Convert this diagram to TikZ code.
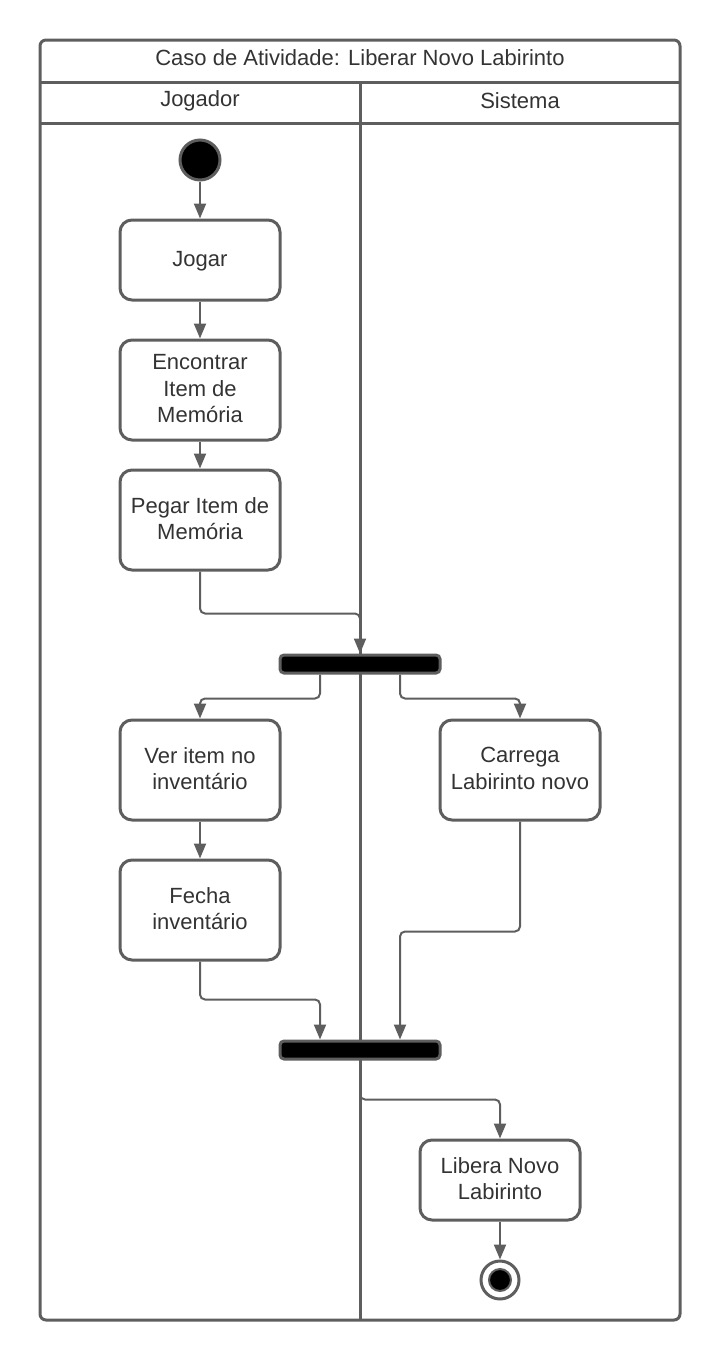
\documentclass[tikz,border=0pt]{standalone}
\usepackage{fontspec}
\setmainfont{Liberation Sans}
\usetikzlibrary{positioning, arrows.meta}
\definecolor{linegray}{HTML}{5E5E5E}
\definecolor{textgray}{HTML}{333333}
\tikzset{
    every node/.style={font=\fontsize{22}{26.5}\selectfont, text=textgray}, % lane and action texts
    action/.style={draw=linegray, line width=3pt, rounded corners=12pt, minimum width=160pt, minimum height=100pt, align=center,
        text depth=3pt}, % activity boxes
    bar/.style={draw=linegray, fill=black, line width=3pt, rounded corners=4pt, minimum width=160pt, minimum height=18pt}, % fork and join bars
    startnode/.style={circle, draw=linegray, fill=black, line width=3pt, minimum size=40pt},
    endnode/.style={circle, draw=linegray, line width=3pt, minimum size=38pt,
        path picture={\filldraw[draw=linegray, fill=black, line width=2pt] (path picture bounding box.center) circle (11pt);}},
    frame/.style={draw=linegray, line width=3pt},
    flow/.style={draw=linegray, line width=2pt, rounded corners=5pt, -{Triangle[length=15pt, width=12pt]}}, % connectors
}
\begin{document}
\begin{tikzpicture}[x=1pt, y=-1pt]
\useasboundingbox (0,0) rectangle (720,1360);
% swimlane frame
\draw[frame, rounded corners=6pt] (40,40) rectangle (680,1320);
\draw[frame] (40,82) -- (680,82);
\draw[frame] (40,123) -- (680,123);
\draw[frame] (360,82) -- (360,1320);
\node (title) at (360,58) {Caso de Atividade: Liberar Novo Labirinto};
\node (laneA) at (200,101) {Jogador};
\node (laneB) at (520,101) {Sistema};

% Jogador
\node[startnode] (start) at (200,160) {};
\node[action, minimum height=80pt, below=37pt of start] (jogar) {Jogar};
\node[action, below=37pt of jogar] (encontrar) {Encontrar\\Item de\\Memória};
\node[action, below=27pt of encontrar] (pegar) {Pegar Item de\\Memória};
\node[bar] (fork) at (360,664) {};
\node[action] (ver) at (200,770) {Ver item no\\inventário};
\node[action, below=37pt of ver] (fecha) {Fecha\\inventário};
% Sistema
\node[action, right=157pt of ver] (carrega) {Carrega\\Labirinto novo};
\node[bar] (join) at (360,1050) {};
\node[action, minimum height=80pt] (libera) at (500,1180) {Libera Novo\\Labirinto};
\node[endnode, below=38pt of libera] (end) {};

\draw[flow] (start) -- (jogar);
\draw[flow] (jogar) -- (encontrar);
\draw[flow] (encontrar) -- (pegar);
\draw[flow] (pegar.south) -- ++(0,42) -| (fork.north);
\draw[flow] ([xshift=-40pt]fork.south) -- ++(0,24) -| (ver.north);
\draw[flow] ([xshift=40pt]fork.south) -- ++(0,24) -| (carrega.north);
\draw[flow] (ver) -- (fecha);
\draw[flow] (fecha.south) -- ++(0,38) -| ([xshift=-40pt]join.north);
\draw[flow] (carrega.south) -- ++(0,110) -| ([xshift=40pt]join.north);
\draw[flow] (join.south) -- ++(0,39) -| (libera.north);
\draw[flow] (libera) -- (end);
\end{tikzpicture}
\end{document}
